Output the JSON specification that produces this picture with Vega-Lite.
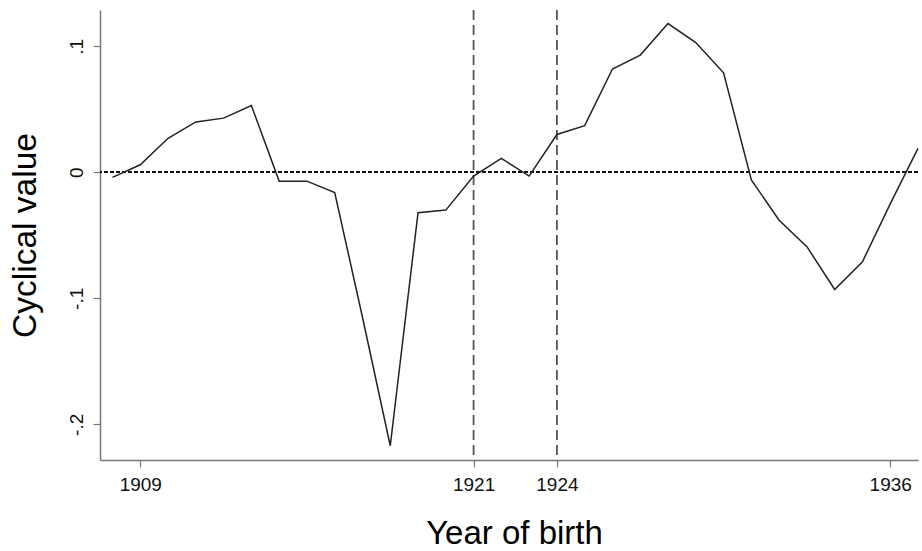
{
  "$schema": "https://vega.github.io/schema/vega-lite/v6.json",
  "width": 818,
  "height": 450,
  "autosize": {"type": "none"},
  "padding": {"left": 100, "top": 10, "right": 4, "bottom": 91},
  "background": "white",
  "config": {
    "view": {"stroke": null},
    "font": "Liberation Sans",
    "axis": {"grid": false}
  },
  "data": {
    "values": [
      {"year": 1908, "value": -0.004},
      {"year": 1909, "value": 0.006},
      {"year": 1910, "value": 0.027},
      {"year": 1911, "value": 0.040},
      {"year": 1912, "value": 0.043},
      {"year": 1913, "value": 0.053},
      {"year": 1914, "value": -0.007},
      {"year": 1915, "value": -0.007},
      {"year": 1916, "value": -0.016},
      {"year": 1917, "value": -0.115},
      {"year": 1918, "value": -0.217},
      {"year": 1919, "value": -0.032},
      {"year": 1920, "value": -0.030},
      {"year": 1921, "value": -0.003},
      {"year": 1922, "value": 0.011},
      {"year": 1923, "value": -0.003},
      {"year": 1924, "value": 0.030},
      {"year": 1925, "value": 0.037},
      {"year": 1926, "value": 0.082},
      {"year": 1927, "value": 0.093},
      {"year": 1928, "value": 0.118},
      {"year": 1929, "value": 0.103},
      {"year": 1930, "value": 0.079},
      {"year": 1931, "value": -0.006},
      {"year": 1932, "value": -0.038},
      {"year": 1933, "value": -0.059},
      {"year": 1934, "value": -0.093},
      {"year": 1935, "value": -0.071},
      {"year": 1936, "value": -0.025},
      {"year": 1937, "value": 0.019}
    ]
  },
  "layer": [
    {
      "mark": {"type": "rule", "color": "#111111", "strokeWidth": 1.4, "strokeDash": [4, 2]},
      "encoding": {"y": {"datum": 0, "type": "quantitative"}}
    },
    {
      "data": {"values": [{"year": 1921}, {"year": 1924}]},
      "mark": {"type": "rule", "color": "#555555", "strokeWidth": 1.8, "strokeDash": [10, 5]},
      "encoding": {"x": {"field": "year", "type": "quantitative"}}
    },
    {
      "mark": {"type": "line", "color": "#222222", "strokeWidth": 1.5},
      "encoding": {
        "x": {
          "field": "year",
          "type": "quantitative",
          "scale": {"domain": [1907.55, 1937], "nice": false, "zero": false},
          "axis": {
            "values": [1909, 1921, 1924, 1936],
            "format": "d",
            "title": "Year of birth",
            "titleFont": "Liberation Sans",
            "titleFontSize": 33,
            "titleFontWeight": "normal",
            "titleColor": "#000000",
            "titleX": 414,
            "titleY": 83,
            "titleAlign": "center",
            "titleBaseline": "alphabetic",
            "labelFont": "Liberation Sans",
            "labelFontSize": 19,
            "labelColor": "#111111",
            "labelPadding": 8,
            "tickSize": 7,
            "tickColor": "#777777",
            "domainColor": "#777777",
            "domainWidth": 1.5,
            "tickWidth": 1.2
          }
        },
        "y": {
          "field": "value",
          "type": "quantitative",
          "scale": {"domain": [-0.2283, 0.1288], "nice": false, "zero": false},
          "axis": {
            "values": [-0.2, -0.1, 0, 0.1],
            "labelExpr": "datum.value == 0 ? '0' : (datum.value < 0 ? '-' : '') + '.' + toString(round(abs(datum.value) * 10))",
            "labelAngle": -90,
            "labelAlign": "center",
            "labelBaseline": "alphabetic",
            "labelFont": "Liberation Sans",
            "labelFontSize": 19,
            "labelColor": "#111111",
            "labelPadding": 11,
            "tickSize": 7,
            "tickColor": "#777777",
            "tickWidth": 1.2,
            "domainColor": "#777777",
            "domainWidth": 1.5,
            "title": "Cyclical value",
            "titleFont": "Liberation Sans",
            "titleFontSize": 33.5,
            "titleFontWeight": "normal",
            "titleColor": "#000000",
            "titleAngle": -90,
            "titleX": -65,
            "titleY": 225,
            "titleAlign": "center",
            "titleBaseline": "alphabetic"
          }
        }
      }
    }
  ]
}
